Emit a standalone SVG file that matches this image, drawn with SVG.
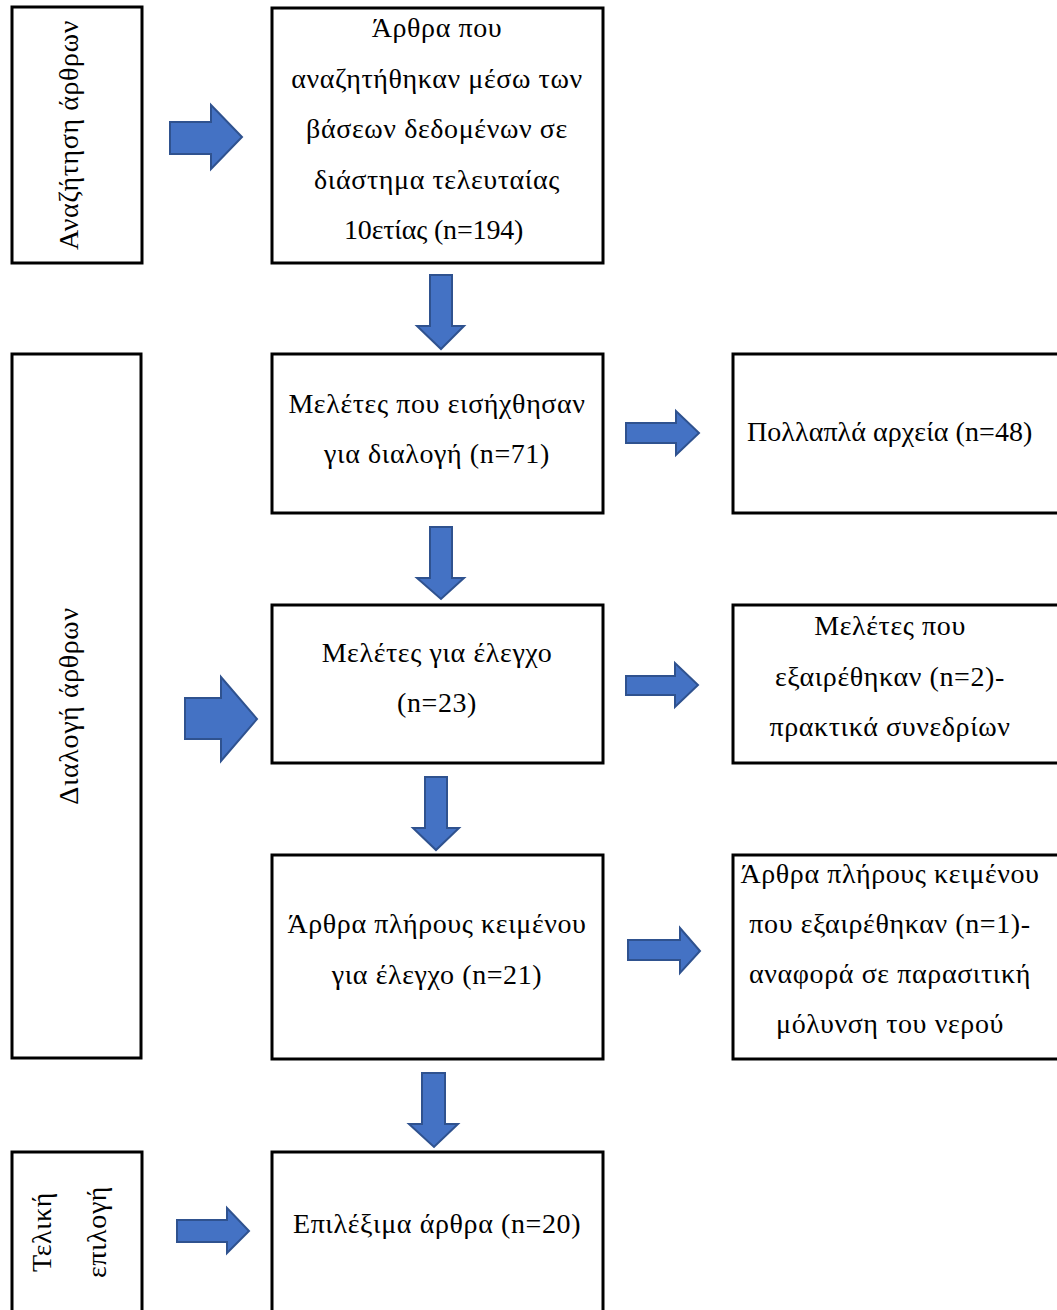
<svg xmlns="http://www.w3.org/2000/svg" width="1057" height="1310" viewBox="0 0 1057 1310">
<style>
.box{fill:#fff;stroke:#000;stroke-width:3}
.t{font-family:"Liberation Serif","Times New Roman",serif;font-size:28px;letter-spacing:0.6px;fill:#000;text-anchor:middle}
.arr{fill:#4472C4;stroke:#2F528F;stroke-width:2;stroke-linejoin:miter}
</style>
<rect x="0" y="0" width="1057" height="1310" fill="#fff"/>

<g id="stage-search">
<rect class="box" x="12" y="7" width="130" height="256"/>
<text class="t" transform="translate(78,135) rotate(-90)">Αναζήτηση άρθρων</text>
</g>
<g id="stage-screening">
<rect class="box" x="12" y="354" width="129" height="704"/>
<text class="t" transform="translate(78,706) rotate(-90)">Διαλογή άρθρων</text>
</g>
<g id="stage-final">
<rect class="box" x="12" y="1152" width="130" height="170"/>
<text class="t" transform="translate(51,1232) rotate(-90)">Τελική</text>
<text class="t" transform="translate(106,1232) rotate(-90)">επιλογή</text>
</g>

<g id="n-searched">
<rect class="box" x="272" y="8" width="331" height="255"/>
<text class="t" x="437" y="37">Άρθρα που</text>
<text class="t" x="437" y="88">αναζητήθηκαν μέσω των</text>
<text class="t" x="437" y="138">βάσεων δεδομένων σε</text>
<text class="t" x="437" y="189">διάστημα τελευταίας</text>
<text class="t" x="434" y="239" textLength="180" lengthAdjust="spacing">10ετίας (n=194)</text>
</g>
<g id="n-screening">
<rect class="box" x="272" y="354" width="331" height="159"/>
<text class="t" x="437" y="413">Μελέτες που εισήχθησαν</text>
<text class="t" x="437" y="463">για διαλογή (n=71)</text>
</g>
<g id="n-duplicates">
<rect class="box" x="733" y="354" width="330" height="159"/>
<text class="t" x="890" y="441" textLength="286" lengthAdjust="spacing">Πολλαπλά αρχεία (n=48)</text>
</g>
<g id="n-check">
<rect class="box" x="272" y="605" width="331" height="158"/>
<text class="t" x="437" y="662">Μελέτες για έλεγχο</text>
<text class="t" x="437" y="712">(n=23)</text>
</g>
<g id="n-excluded-conf">
<rect class="box" x="733" y="605" width="330" height="158"/>
<text class="t" x="890" y="635">Μελέτες που</text>
<text class="t" x="890" y="686">εξαιρέθηκαν (n=2)-</text>
<text class="t" x="890" y="736">πρακτικά συνεδρίων</text>
</g>
<g id="n-fulltext">
<rect class="box" x="272" y="855" width="331" height="204"/>
<text class="t" x="437" y="933">Άρθρα πλήρους κειμένου</text>
<text class="t" x="437" y="984">για έλεγχο (n=21)</text>
</g>
<g id="n-excluded-full">
<rect class="box" x="733" y="855" width="330" height="204"/>
<text class="t" x="890" y="883">Άρθρα πλήρους κειμένου</text>
<text class="t" x="890" y="933">που εξαιρέθηκαν (n=1)-</text>
<text class="t" x="890" y="983">αναφορά σε παρασιτική</text>
<text class="t" x="890" y="1033">μόλυνση του νερού</text>
</g>
<g id="n-eligible">
<rect class="box" x="272" y="1152" width="331" height="170"/>
<text class="t" x="437" y="1233">Επιλέξιμα άρθρα (n=20)</text>
</g>

<g id="connectors">
<polygon class="arr" points="170,122 211,122 211,105 242,137 211,169 211,154 170,154"/>
<polygon class="arr" points="185,698 221,698 221,677 257,719 221,761 221,739 185,739"/>
<polygon class="arr" points="177,1220 227,1220 227,1208 249,1231 227,1253 227,1242 177,1242"/>
<polygon class="arr" points="626,423 676,423 676,411 699,433 676,455 676,443 626,443"/>
<polygon class="arr" points="626,676 675,676 675,663 698,685 675,707 675,695 626,695"/>
<polygon class="arr" points="628,940 680,940 680,928 700,951 680,973 680,960 628,960"/>
<polygon class="arr" points="430,275 452,275 452,326 464,326 441,349 417,326 430,326"/>
<polygon class="arr" points="430,527 452,527 452,578 464,578 441,599 417,578 430,578"/>
<polygon class="arr" points="425,777 447,777 447,828 459,828 436,850 413,828 425,828"/>
<polygon class="arr" points="422,1073 445,1073 445,1124 458,1124 434,1147 409,1124 422,1124"/>
</g>
</svg>
